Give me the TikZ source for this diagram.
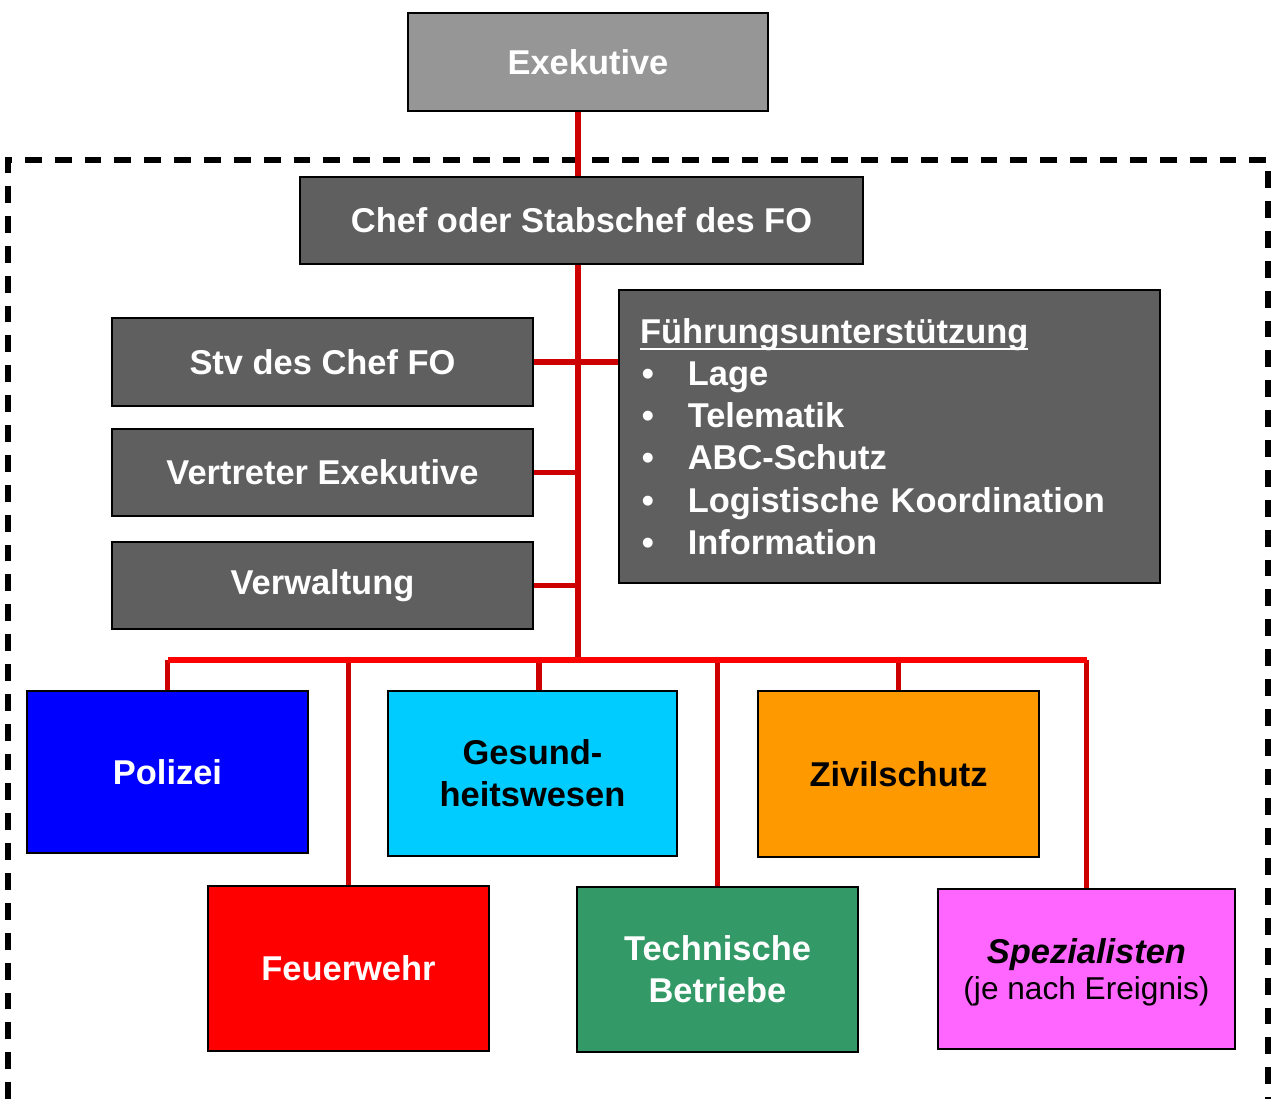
\documentclass[tikz,border=0pt]{standalone}
\usepackage{fontspec}
\setmainfont{Liberation Sans}
\definecolor{exegray}{HTML}{969696}
\definecolor{boxgray}{HTML}{5F5F5F}
\definecolor{stemred}{HTML}{CC0000}
\definecolor{busred}{HTML}{FF0000}
\definecolor{polblue}{HTML}{0000FF}
\definecolor{gescyan}{HTML}{00CCFF}
\definecolor{zivorange}{HTML}{FF9900}
\definecolor{feured}{HTML}{FF0000}
\definecolor{techgreen}{HTML}{339966}
\definecolor{spezpink}{HTML}{FF66FF}
\newcommand\bul{\makebox[27.2pt][l]{\hspace{1pt}\textbullet}}
\newcommand\ultext[1]{\setbox0\hbox{#1}\rlap{\rule[-3.6pt]{\wd0}{1.1pt}}\box0}
\begin{document}
\begin{tikzpicture}[x=0.02cm,y=-0.02cm,
  box/.style={draw=black, line width=0.9pt, fill=boxgray, text=white, inner sep=0pt, align=center,
    font=\fontsize{19.6}{24}\selectfont\bfseries},
  stem/.style={draw=stemred, line width=3.4pt},
  bus/.style={draw=busred, line width=3.8pt}]
\useasboundingbox (0,0) rectangle (1276,1099);
\draw[line width=3.1pt, dash pattern=on 9.6pt off 7.4pt] (8,1099) -- (8,160) -- (1268,160) -- (1268,1099);
\node[box, fill=exegray, minimum width=7.2cm, minimum height=1.96cm] (exe) at (588,62) {Exekutive};
\node[box, minimum width=11.26cm, minimum height=1.74cm] (chef) at (581.5,220.5) {Chef oder Stabschef des FO};
\node[box, minimum width=8.42cm, minimum height=1.76cm] (stv) at (322.5,362) {Stv des Chef FO};
\node[box, minimum width=8.42cm, minimum height=1.74cm] (vertr) at (322.5,472.5) {Vertreter Exekutive};
\node[box, minimum width=8.42cm, minimum height=1.74cm] (verw) at (322.5,585.5) {Verwaltung};
\node[box, minimum width=10.82cm, minimum height=5.86cm, text width=9.98cm, align=left, inner xsep=11.9pt] (fu) at (889.5,436.5)
  {\ultext{Führungsunterstützung}\\ \bul Lage\\ \bul Telematik\\ \bul ABC-Schutz\\ \bul Logistische Koordination\\ \bul Information};
\node[box, fill=polblue, minimum width=5.62cm, minimum height=3.24cm] (pol) at (167.5,772) {Polizei};
\node[box, fill=gescyan, text=black, minimum width=5.78cm, minimum height=3.3cm] (ges) at (532.5,773.5) {Gesund-\\heitswesen};
\node[box, fill=zivorange, text=black, minimum width=5.62cm, minimum height=3.32cm] (ziv) at (898.5,774) {Zivilschutz};
\node[box, fill=feured, minimum width=5.62cm, minimum height=3.3cm] (feu) at (348.5,968.5) {Feuerwehr};
\node[box, fill=techgreen, minimum width=5.62cm, minimum height=3.3cm] (tech) at (717.5,969.5) {Technische\\Betriebe};
\node[box, fill=spezpink, text=black, minimum width=5.94cm, minimum height=3.2cm, text depth=0pt] (spez) at (1086.5,969)
  {\itshape Spezialisten\\[-3pt] {\fontsize{18}{21}\selectfont\mdseries\upshape (je nach Ereignis)}};
\coordinate (t) at (578,660);
\draw[stem] (exe.south -| t) -- (chef.north -| t);
\draw[stem] (chef.south -| t) -- (t);
\draw[stem] (stv.east) -- (fu.west |- stv.east);
\draw[stem] (vertr.east) -- (vertr.east -| t);
\draw[stem] (verw.east) -- (verw.east -| t);
\foreach \n in {pol,feu,tech,ziv,spez}
  \draw[stem] (\n.north) -- (\n.north |- t);
\draw[stem] ([xshift=0.13cm]ges.north) -- ([xshift=0.13cm]ges.north |- t);
\draw[bus] (pol.north |- t) -- (spez.north |- t);
\end{tikzpicture}
\end{document}
